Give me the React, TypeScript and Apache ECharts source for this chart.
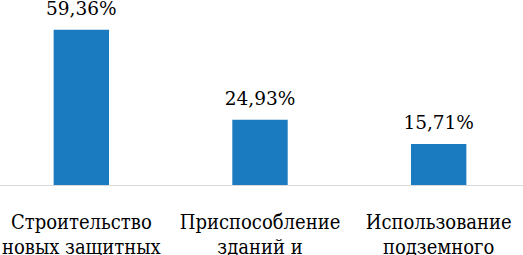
import React, { useEffect, useRef } from "react";
import * as echarts from "echarts";

const categories = [
  "Строительство\nновых защитных",
  "Приспособление\nзданий и",
  "Использование\nподземного",
];
const values = [59.36, 24.93, 15.71];

export default function App() {
  const ref = useRef<HTMLDivElement>(null);
  useEffect(() => {
    document.body.style.margin = "0";
    const chart = echarts.init(ref.current!, undefined, { renderer: "svg" });
    chart.setOption({
      animation: false,
      grid: { left: -8, right: -5, top: 2, bottom: 70, containLabel: false, outerBoundsMode: "none" },
      xAxis: {
        type: "category",
        data: categories,
        axisLine: { lineStyle: { color: "#d9d9d9", width: 1 } },
        axisTick: { show: false },
        axisLabel: {
          color: "#000",
          fontFamily: "DejaVu Serif Condensed",
          fontSize: 20,
          lineHeight: 25,
          margin: 24,
          interval: 0,
        },
      },
      yAxis: {
        type: "value",
        min: 0,
        max: 70,
        show: false,
        splitLine: { show: false },
      },
      series: [
        {
          type: "bar",
          data: values,
          barWidth: "31%",
          itemStyle: { color: "#1b7bc0" },
          label: {
            show: true,
            position: "top",
            distance: 11,
            color: "#000",
            fontFamily: "DejaVu Serif",
            fontSize: 18.5,
            lineHeight: 20,
            formatter: (p: any) => p.value.toFixed(2).replace(".", ",") + "%",
          },
        },
      ],
    });
    return () => chart.dispose();
  }, []);
  return <div ref={ref} style={{ width: 523, height: 255 }} />;
}
